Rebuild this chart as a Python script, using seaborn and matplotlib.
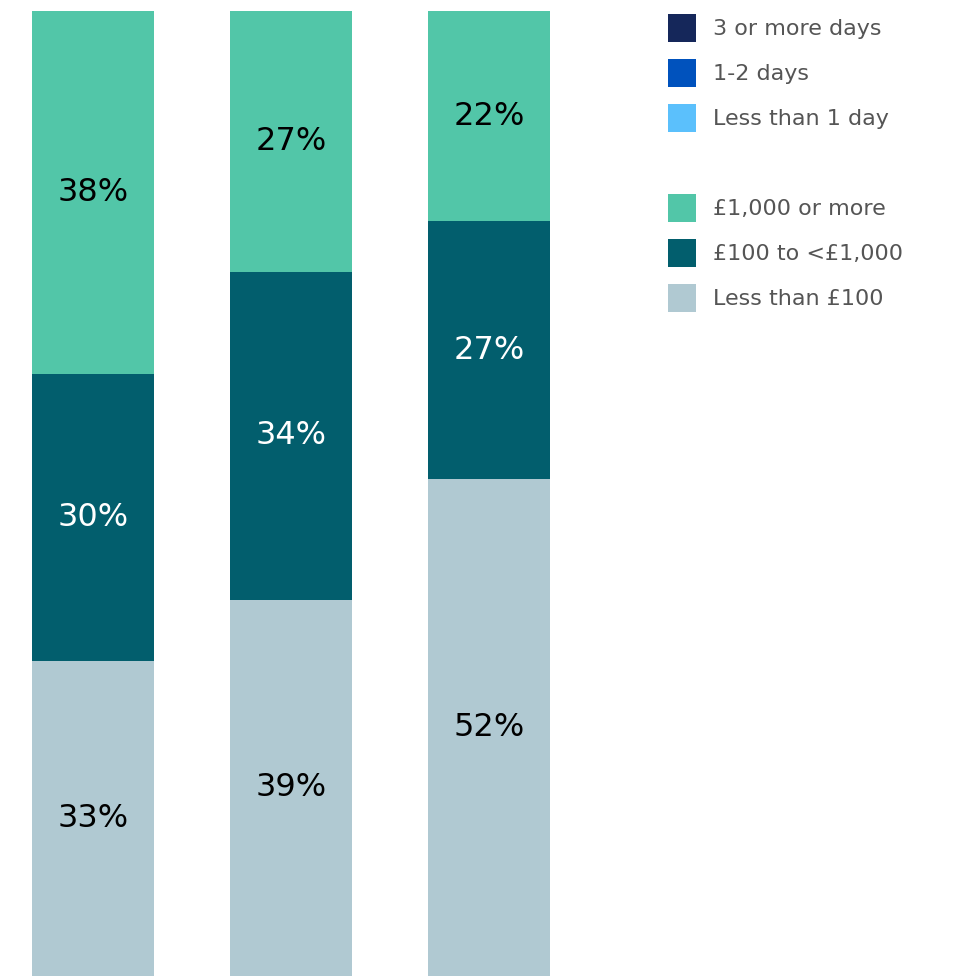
import numpy as np
import pandas as pd
import matplotlib
matplotlib.use("Agg")
import matplotlib.pyplot as plt
from matplotlib.patches import Rectangle
import seaborn as sns

# Share of respondents by amount, for each time band
durations = ["3 or more days", "1-2 days", "Less than 1 day"]
bands = ["Less than £100", "£100 to <£1,000", "£1,000 or more"]  # bottom to top
less_100 = [33, 39, 52]
from_100_to_1000 = [30, 34, 27]
over_1000 = [38, 27, 22]

band_colors = ["#b0c9d2", "#025e6d", "#52c6a8"]
label_colors = ["#000000", "#ffffff", "#000000"]
duration_colors = ["#15275a", "#0052bd", "#5bc0fc"]

sns.set_theme(style="white")
plt.rcParams["font.family"] = ["DejaVu Sans"]

df = pd.DataFrame({
    "duration": durations,
    bands[0]: less_100,
    bands[1]: from_100_to_1000,
    bands[2]: over_1000,
})
totals = df[bands].sum(axis=1)
shares = df[bands].div(totals, axis=0) * 100
cum = shares.cumsum(axis=1)

fig = plt.figure(figsize=(9.54, 9.76), dpi=100)
ax = fig.add_axes([0, 0, 1, 965 / 976])

# Layered cumulative bars: tallest first, so each lower band sits in front
for band, color in reversed(list(zip(bands, band_colors))):
    sns.barplot(x=df["duration"], y=cum[band], order=durations, color=color,
                saturation=1, width=0.616, ax=ax, linewidth=0)

# Value labels centred in each segment
for i in range(len(durations)):
    base = 0.0
    for j, band in enumerate(bands):
        h = shares.loc[i, band]
        ax.text(i, base + h / 2, f"{df.loc[i, band]}%", ha="center", va="center",
                fontsize=23, color=label_colors[j])
        base += h

ax.set_xlim(-93 / 198, (954 - 93) / 198)
ax.set_ylim(0, 100)
ax.axis("off")

# Legend: duration colours, a gap, then amount bands (top to bottom)
entries = list(zip(durations, duration_colors)) + [None] + \
    list(zip(reversed(bands), reversed(band_colors)))
W, H = 954, 976
for k, entry in enumerate(entries):
    if entry is None:
        continue
    label, color = entry
    yc = 28 + 45 * k
    fig.patches.append(Rectangle((668 / W, 1 - (yc + 14) / H), 28 / W, 28 / H,
                                 transform=fig.transFigure, facecolor=color,
                                 edgecolor="none"))
    fig.text(713 / W, 1 - (yc + 1) / H, label, ha="left", va="center",
             fontsize=16, color="#555555")

fig.savefig("out.png", dpi=100)
